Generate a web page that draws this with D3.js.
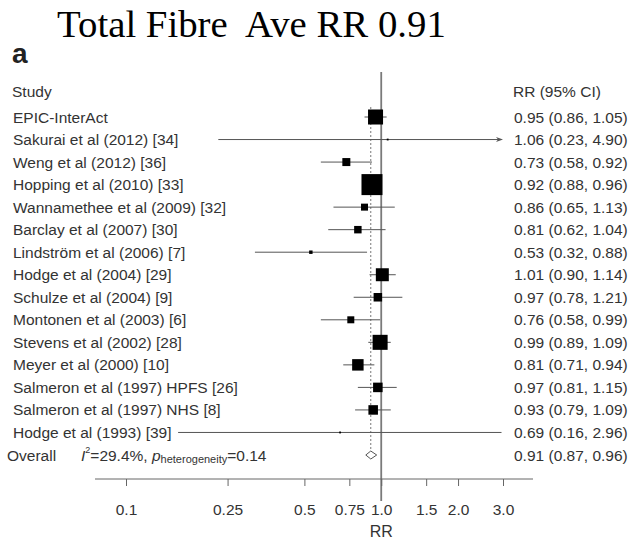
<!DOCTYPE html>
<html>
<head>
<meta charset="utf-8">
<script src="https://cdn.jsdelivr.net/npm/d3@7/dist/d3.min.js"></script>
<style>
  html, body { margin: 0; padding: 0; background: #fff; }
  svg { display: block; }
</style>
</head>
<body>
<div id="chart"></div>
<script>
// study rows, top to bottom
var studies = [
  "EPIC-InterAct",
  "Sakurai et al (2012) [34]",
  "Weng et al (2012) [36]",
  "Hopping et al (2010) [33]",
  "Wannamethee et al (2009) [32]",
  "Barclay et al (2007) [30]",
  "Lindström et al (2006) [7]",
  "Hodge et al (2004) [29]",
  "Schulze et al (2004) [9]",
  "Montonen et al (2003) [6]",
  "Stevens et al (2002) [28]",
  "Meyer et al (2000) [10]",
  "Salmeron et al (1997) HPFS [26]",
  "Salmeron et al (1997) NHS [8]",
  "Hodge et al (1993) [39]"
];
var rr    = [0.95, 1.06, 0.73, 0.92, 0.86, 0.81, 0.53, 1.01, 0.97, 0.76, 0.99, 0.81, 0.97, 0.93, 0.69];
var lower = [0.86, 0.23, 0.58, 0.88, 0.65, 0.62, 0.32, 0.90, 0.78, 0.58, 0.89, 0.71, 0.81, 0.79, 0.16];
var upper = [1.05, 4.90, 0.92, 0.96, 1.13, 1.04, 0.88, 1.14, 1.21, 0.99, 1.09, 0.94, 1.15, 1.09, 2.96];
// estimated study weights (%)
var weights = [13.4, 0.2, 3.8, 26.2, 2.9, 3.3, 0.7, 10.0, 4.3, 2.9, 13.4, 7.8, 5.4, 5.4, 0.2];

var overall = {rr: 0.91, lower: 0.87, upper: 0.96};
var tickValues = [0.1, 0.25, 0.5, 0.75, 1.0, 1.5, 2.0, 3.0];
var tickLabels = ["0.1", "0.25", "0.5", "0.75", "1.0", "1.5", "2.0", "3.0"];

var W = 632, H = 542;
var font = "'Liberation Sans', Arial, Helvetica, sans-serif";
var textCol = "#333";
var fs = "15.5px";

var svg = d3.select("#chart").append("svg")
  .attr("width", W).attr("height", H)
  .style("font-family", font);

var x = d3.scaleLog().domain([0.1, 3]).range([126, 503]);
var y = d3.scaleLinear().domain([0, studies.length]).range([117, 455]);
var box = d3.scaleSqrt().domain([0, 26.2]).range([0, 21]);

var fmt = d3.format(".2f");
var ciText = (r, l, u) => `${fmt(r)} (${fmt(l)}, ${fmt(u)})`;

// title
svg.append("text")
  .attr("x", 57).attr("y", 37)
  .style("font-family", "'Liberation Serif', 'Times New Roman', serif")
  .style("font-size", "38.8px")
  .attr("fill", "#000")
  .attr("xml:space", "preserve")
  .text("Total Fibre  Ave RR 0.91");

svg.append("text")
  .attr("x", 12).attr("y", 63)
  .style("font-size", "28px").style("font-weight", "bold")
  .attr("fill", "#222")
  .text("a");

// headers
svg.append("text").attr("x", 12).attr("y", 91)
  .attr("dominant-baseline", "central")
  .style("font-size", fs).attr("fill", textCol).text("Study");
svg.append("text").attr("x", 513).attr("y", 91)
  .attr("dominant-baseline", "central")
  .style("font-size", fs).attr("fill", textCol).text("RR (95% CI)");

// reference line at RR = 1
svg.append("line")
  .attr("x1", x(1)).attr("x2", x(1))
  .attr("y1", 72).attr("y2", 501)
  .attr("stroke", "#7a7a7a").attr("stroke-width", 1.8);

// dashed line at overall estimate
svg.append("line")
  .attr("x1", x(overall.rr)).attr("x2", x(overall.rr))
  .attr("y1", y(0) - 10).attr("y2", y(studies.length) - 4)
  .attr("stroke", "#777").attr("stroke-width", 1)
  .attr("stroke-dasharray", "2,2");

var rows = studies.map((s, i) => ({
  name: s, rr: rr[i], lo: lower[i], hi: upper[i], w: weights[i], i: i
}));

var g = svg.append("g");
var xMax = x.domain()[1];

// CI lines
g.selectAll("line.ci").data(rows).join("line")
  .attr("class", "ci")
  .attr("x1", d => x(d.lo))
  .attr("x2", d => x(Math.min(d.hi, xMax)) - (d.hi > xMax ? 4 : 0))
  .attr("y1", d => y(d.i)).attr("y2", d => y(d.i))
  .attr("stroke", "#555").attr("stroke-width", 1);

// arrows for clipped CIs
g.selectAll("path.arrow").data(rows.filter(d => d.hi > xMax)).join("path")
  .attr("class", "arrow")
  .attr("d", d => {
    var ax = x(xMax), ay = y(d.i);
    return `M${ax},${ay} L${ax - 7},${ay - 2.5} L${ax - 5},${ay} L${ax - 7},${ay + 2.5} Z`;
  })
  .attr("fill", "#555");

// weight boxes
g.selectAll("rect.box").data(rows).join("rect")
  .attr("class", "box")
  .attr("x", d => x(d.rr) - box(d.w) / 2)
  .attr("y", d => y(d.i) - box(d.w) / 2)
  .attr("width", d => box(d.w))
  .attr("height", d => box(d.w))
  .attr("fill", "#000");

// study labels
svg.selectAll("text.study").data(rows).join("text")
  .attr("class", "study")
  .attr("x", 13).attr("y", d => y(d.i))
  .attr("dominant-baseline", "central")
  .style("font-size", fs).attr("fill", textCol)
  .text(d => d.name);

// RR text
svg.selectAll("text.rr").data(rows).join("text")
  .attr("class", "rr")
  .attr("x", 514).attr("y", d => y(d.i))
  .attr("dominant-baseline", "central")
  .style("font-size", fs).attr("fill", textCol)
  .text(d => ciText(d.rr, d.lo, d.hi));

// overall row
var yo = y(studies.length);
svg.append("path")
  .attr("d", `M${x(overall.lower)},${yo} L${x(overall.rr)},${yo - 4} L${x(overall.upper)},${yo} L${x(overall.rr)},${yo + 4} Z`)
  .attr("fill", "#fff").attr("stroke", "#555").attr("stroke-width", 1);

svg.append("text").attr("x", 7).attr("y", yo)
  .attr("dominant-baseline", "central")
  .style("font-size", fs).attr("fill", textCol).text("Overall");

var het = svg.append("text").attr("x", 81).attr("y", yo)
  .attr("dominant-baseline", "central")
  .style("font-size", fs).attr("fill", textCol);
het.append("tspan").style("font-style", "italic").text("I");
het.append("tspan").attr("dy", -5).style("font-size", "9px").text("2");
het.append("tspan").attr("dy", 5).text("=29.4%, ");
het.append("tspan").style("font-style", "italic").text("p");
het.append("tspan").attr("dy", 4).style("font-size", "11px").text("heterogeneity");
het.append("tspan").attr("dy", -4).text("=0.14");

svg.append("text").attr("x", 514).attr("y", yo)
  .attr("dominant-baseline", "central")
  .style("font-size", fs).attr("fill", textCol)
  .text(ciText(overall.rr, overall.lower, overall.upper));

// x axis
var axisY = 479;
svg.append("line")
  .attr("x1", 95).attr("x2", 533)
  .attr("y1", axisY).attr("y2", axisY)
  .attr("stroke", "#666").attr("stroke-width", 1);

var axis = d3.axisBottom(x)
  .tickValues(tickValues)
  .tickFormat((d, i) => tickLabels[i])
  .tickSizeInner(7).tickSizeOuter(0).tickPadding(18);

var ax = svg.append("g").attr("transform", `translate(0,${axisY})`).call(axis);
ax.select(".domain").remove();
ax.selectAll(".tick line").attr("stroke", "#666");
ax.selectAll(".tick text")
  .attr("fill", textCol)
  .style("font-size", fs)
  .style("font-family", font);

svg.append("text")
  .attr("x", x(1)).attr("y", 531)
  .attr("text-anchor", "middle").attr("dominant-baseline", "central")
  .style("font-size", "16px").attr("fill", textCol)
  .text("RR");
</script>
</body>
</html>
